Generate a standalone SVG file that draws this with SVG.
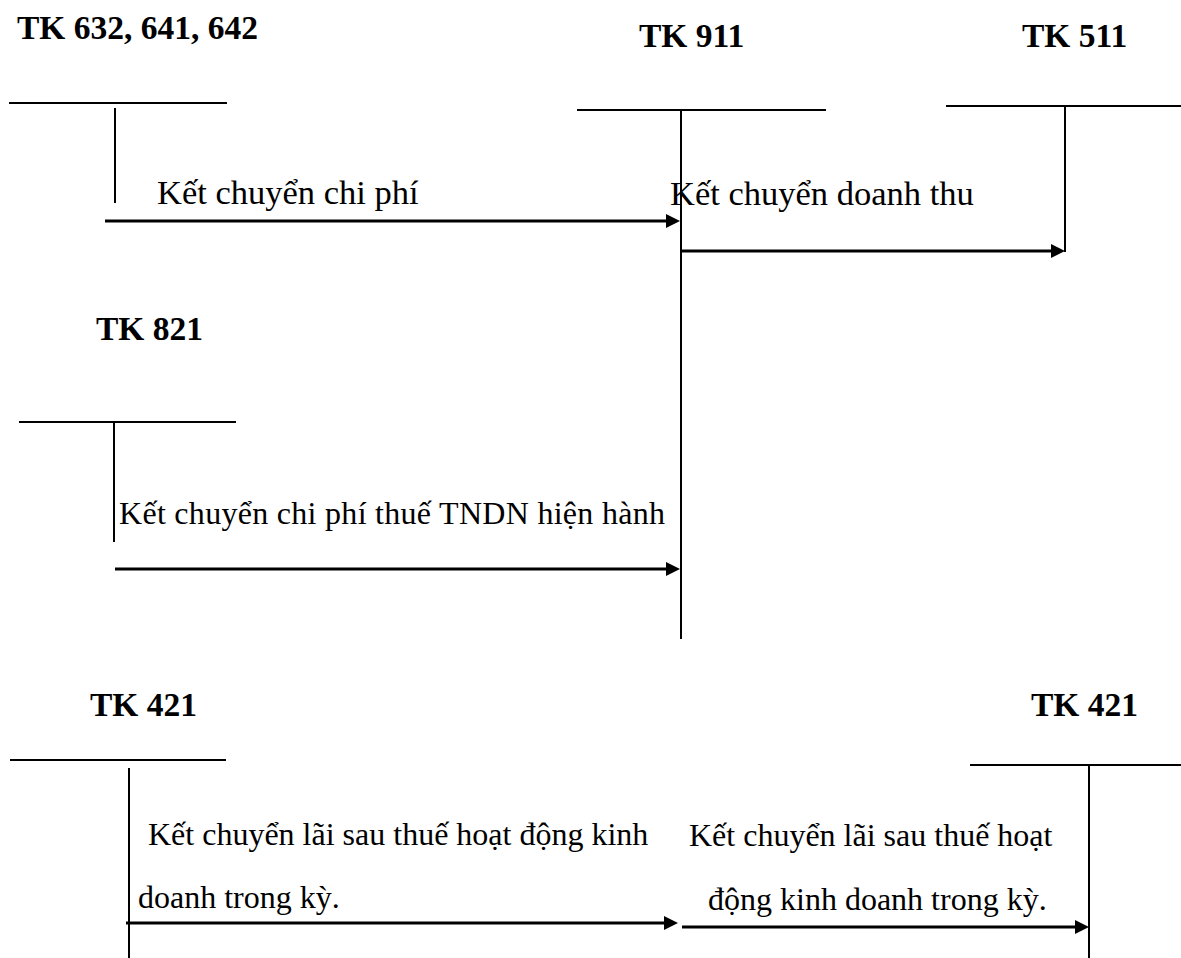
<svg xmlns="http://www.w3.org/2000/svg" width="1181" height="958" viewBox="0 0 1181 958">
<style>
  .title { font-family: "Liberation Serif", "Times New Roman", serif; font-weight: bold; font-size: 33.5px; fill: #000; }
  .lbl { font-family: "Liberation Serif", "Times New Roman", serif; font-size: 32px; fill: #000; }
  .lbl-big { font-size: 34.5px; }
  .acct { stroke: #000; stroke-width: 2; fill: none; }
  .arrow { stroke: #000; stroke-width: 3; fill: none; marker-end: url(#ah); }
</style>
<defs>
  <marker id="ah" markerUnits="userSpaceOnUse" viewBox="0 0 14 14" refX="2" refY="7" markerWidth="14" markerHeight="14" orient="auto">
    <path d="M0,0 L14,7 L0,14 z" fill="#000"/>
  </marker>
</defs>
<rect width="1181" height="958" fill="#fff"/>

<g id="tk632">
  <text class="title" x="17" y="39">TK 632, 641, 642</text>
  <line class="acct" x1="9" y1="103" x2="227" y2="103"/>
  <line class="acct" x1="115" y1="108" x2="115" y2="203"/>
</g>
<g id="tk911">
  <text class="title" x="639" y="47">TK 911</text>
  <line class="acct" x1="577" y1="110" x2="826" y2="110"/>
  <line class="acct" x1="681" y1="110" x2="681" y2="639"/>
</g>
<g id="tk511">
  <text class="title" x="1022" y="47">TK 511</text>
  <line class="acct" x1="946" y1="106" x2="1181" y2="106"/>
  <line class="acct" x1="1065" y1="106" x2="1065" y2="252"/>
</g>
<g id="tk821">
  <text class="title" x="96" y="340">TK 821</text>
  <line class="acct" x1="19" y1="422" x2="236" y2="422"/>
  <line class="acct" x1="114" y1="422" x2="114" y2="542"/>
</g>
<g id="tk421-left">
  <text class="title" x="90" y="716">TK 421</text>
  <line class="acct" x1="10" y1="760" x2="226" y2="760"/>
  <line class="acct" x1="129" y1="768" x2="129" y2="958"/>
</g>
<g id="tk421-right">
  <text class="title" x="1031" y="716">TK 421</text>
  <line class="acct" x1="970" y1="765" x2="1181" y2="765"/>
  <line class="acct" x1="1089" y1="765" x2="1089" y2="958"/>
</g>

<g id="connectors">
  <line class="arrow" x1="105" y1="221" x2="668" y2="221"/>
  <line class="arrow" x1="681" y1="251" x2="1053" y2="251"/>
  <line class="arrow" x1="115" y1="569" x2="668" y2="569"/>
  <line class="arrow" x1="126" y1="923" x2="666" y2="923"/>
  <line class="arrow" x1="682" y1="927" x2="1077" y2="927"/>
</g>

<g id="labels">
  <text class="lbl lbl-big" x="157" y="204">Kết chuyển chi phí</text>
  <text class="lbl lbl-big" x="670" y="205">Kết chuyển doanh thu</text>
  <text class="lbl" x="119" y="524" textLength="546">Kết chuyển chi phí thuế TNDN hiện hành</text>
  <text class="lbl" x="148" y="845">Kết chuyển lãi sau thuế hoạt động kinh</text>
  <text class="lbl" x="138" y="908">doanh trong kỳ.</text>
  <text class="lbl" x="689" y="846">Kết chuyển lãi sau thuế hoạt</text>
  <text class="lbl" x="708" y="910">động kinh doanh trong kỳ.</text>
</g>
</svg>
